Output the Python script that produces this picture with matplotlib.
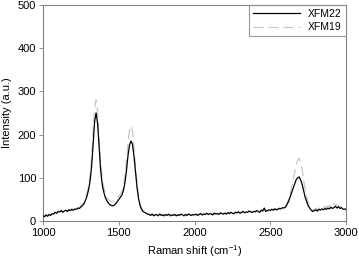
import numpy as np
import matplotlib
matplotlib.use('Agg')
import matplotlib.pyplot as plt

plt.rcParams['font.family'] = ['Liberation Sans', 'DejaVu Sans']
plt.rcParams['mathtext.default'] = 'regular'

# Raman shift grid (cm-1), every 10 cm-1
shift = list(range(1000, 3001, 10))

# XFM22 intensity
xfm22 = [
    12, 10, 14, 11, 15, 13, 17, 16, 20, 18, 22, 21, 24, 20, 23, 25, 22, 26, 24, 27,   # 1000-1190
    25, 28, 27, 30, 29, 33, 36, 40, 48, 58, 72, 92, 125, 175, 230, 250, 225, 170, 118, 85,  # 1200-1390
    68, 55, 47, 42, 38, 36, 35, 37, 40, 45, 50, 55, 60, 70, 88, 115, 150, 175, 185, 178,  # 1400-1590
    150, 115, 78, 52, 36, 27, 22, 20, 18, 16, 15, 13, 16, 12, 14, 15, 12, 16, 13, 14,  # 1600-1790
    12, 15, 13, 16, 12, 14, 13, 15, 12, 14, 13, 16, 14, 12, 15, 13, 16, 14, 13, 15,  # 1800-1990
    14, 16, 13, 15, 17, 14, 16, 15, 18, 15, 17, 16, 14, 18, 16, 17, 15, 19, 17, 16,  # 2000-2190
    18, 16, 19, 17, 20, 18, 17, 20, 19, 21, 18, 20, 22, 19, 21, 20, 23, 21, 20, 22,  # 2200-2390
    21, 24, 22, 20, 25, 23, 30, 22, 24, 26, 24, 27, 25, 28, 26, 27, 29, 28, 31, 30,  # 2400-2590
    32, 38, 45, 55, 65, 75, 85, 95, 100, 102, 95, 85, 70, 55, 45, 35, 30, 25, 22, 24,  # 2600-2790
    26, 23, 27, 25, 28, 26, 29, 27, 30, 28, 32, 29, 31, 34, 30, 33, 29, 31, 27, 28,  # 2800-2990
    26,  # 3000
]

# XFM19 intensity
xfm19 = [
    13, 11, 15, 12, 16, 14, 18, 17, 21, 19, 23, 22, 25, 21, 24, 26, 23, 27, 25, 28,   # 1000-1190
    26, 29, 28, 31, 30, 34, 38, 43, 52, 64, 80, 105, 145, 205, 262, 280, 250, 190, 135, 100,  # 1200-1390
    80, 65, 56, 50, 47, 45, 45, 47, 50, 54, 58, 63, 68, 80, 102, 138, 180, 210, 220, 208,  # 1400-1590
    172, 128, 88, 58, 40, 30, 24, 21, 19, 17, 16, 14, 17, 13, 15, 16, 13, 17, 14, 15,  # 1600-1790
    13, 16, 14, 17, 13, 15, 14, 16, 13, 15, 14, 17, 15, 13, 16, 14, 17, 15, 14, 16,  # 1800-1990
    15, 17, 14, 16, 18, 15, 17, 16, 19, 16, 18, 17, 15, 19, 17, 18, 16, 20, 18, 17,  # 2000-2190
    19, 17, 20, 18, 21, 19, 18, 21, 20, 22, 19, 21, 23, 20, 22, 21, 24, 22, 21, 23,  # 2200-2390
    22, 25, 23, 21, 26, 24, 28, 23, 25, 27, 25, 28, 26, 29, 27, 28, 30, 29, 32, 31,  # 2400-2590
    34, 40, 50, 62, 78, 95, 112, 128, 140, 145, 135, 118, 95, 72, 55, 42, 34, 28, 25, 27,  # 2600-2790
    29, 26, 30, 28, 32, 30, 34, 31, 35, 33, 38, 34, 40, 36, 38, 35, 33, 34, 30, 31,  # 2800-2990
    29,  # 3000
]

fig = plt.figure(figsize=(3.59, 2.60), dpi=100)
ax = fig.add_axes([0.120, 0.150, 0.844, 0.831])

ax.plot(shift, xfm19, color='#c8c8c8', lw=0.9, ls=(0, (8, 4)), label='XFM19', zorder=2)
ax.plot(shift, xfm22, color='black', lw=0.9, label='XFM22', zorder=3)

ax.set_xlim(1000, 3000)
ax.set_ylim(0, 500)
ax.set_xticks([1000, 1500, 2000, 2500, 3000])
ax.set_yticks([0, 100, 200, 300, 400, 500])
ax.tick_params(labelsize=8, length=3, width=0.6, color='#808080', pad=2)
for s in ax.spines.values():
    s.set_color('#808080')
    s.set_linewidth(0.8)

ax.set_xlabel('Raman shift (cm$^{-1}$)', fontsize=8, labelpad=4)
ax.set_ylabel('Intensity (a.u.)', fontsize=8, labelpad=4)

handles, labels = ax.get_legend_handles_labels()
leg = ax.legend(handles[::-1], labels[::-1], loc='upper right', fontsize=7.5,
                frameon=True, fancybox=False, borderaxespad=0, handlelength=4.5,
                borderpad=0.4, labelspacing=0.3, handletextpad=0.8)
leg.get_frame().set_edgecolor('#808080')
leg.get_frame().set_linewidth(0.8)

fig.savefig('out.png', dpi=100)
